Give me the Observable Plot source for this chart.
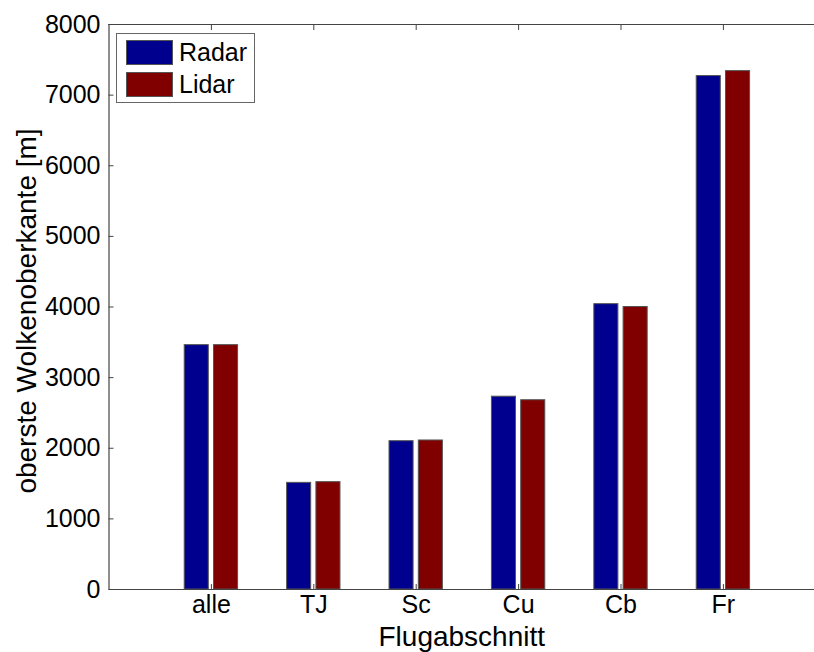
<!DOCTYPE html>
<html><head><meta charset="utf-8">
<script src="https://cdn.jsdelivr.net/npm/d3@7"></script>
<script src="https://cdn.jsdelivr.net/npm/@observablehq/plot@0.6"></script>
<style>
body{margin:0;background:#fff;}
#wrap{position:relative;width:814px;height:652px;font-family:"Liberation Sans",Arial,sans-serif;}
.legend{position:absolute;left:116px;top:33px;width:139px;height:70px;border:1px solid #666;background:#fff;box-sizing:border-box;}
.item{position:absolute;left:9px;height:25px;}
.sw{position:absolute;left:0;top:0;width:47px;height:25px;box-sizing:border-box;border:1px solid #555;}
.lab{position:absolute;left:53px;top:-2px;font-size:25px;line-height:28px;color:#000;}
</style>
</head><body>
<div id="wrap"></div>
<script>
const categories = ["alle", "TJ", "Sc", "Cu", "Cb", "Fr"];
const seriesNames = ["Radar", "Lidar"];
const radar = [3460, 1510, 2100, 2730, 4040, 7270];
const lidar = [3460, 1520, 2110, 2680, 4000, 7340];
const yTicks = [0, 1000, 2000, 3000, 4000, 5000, 6000, 7000, 8000];
const colors = ["#00008F", "#800000"];

const rows = [];
categories.forEach((c, i) => {
  rows.push({cat: c, pos: i + 1, series: "Radar", k: 0, value: radar[i]});
  rows.push({cat: c, pos: i + 1, series: "Lidar", k: 1, value: lidar[i]});
});
const groupOff = 0.143, barW = 0.235;
const catPos = categories.map((c, i) => i + 1);

const W = 814, H = 652, mL = 108.5, mR = 0, mT = 24, mB = 63;
const xMax = (W - mL - mR) / 102.4;

const chart = Plot.plot({
  width: W, height: H,
  marginLeft: mL, marginRight: mR, marginTop: mT, marginBottom: mB,
  style: {fontFamily: '"Liberation Sans", Arial, sans-serif', fontSize: "25px", color: "#000", background: "#fff"},
  x: {domain: [0, xMax]},
  y: {domain: [0, 8000]},
  color: {domain: seriesNames, range: colors},
  marks: [
    Plot.rect(rows, {
      x1: d => d.pos + (d.k === 0 ? -groupOff : groupOff) - barW / 2,
      x2: d => d.pos + (d.k === 0 ? -groupOff : groupOff) + barW / 2,
      y1: 0, y2: "value", fill: "series", stroke: "#555", strokeWidth: 1
    }),
    Plot.ruleY([0, 8000], {stroke: "#444", strokeWidth: 1.2}),
    Plot.ruleX([0], {stroke: "#444", strokeWidth: 1.2}),
    Plot.axisY({ticks: yTicks, tickSize: -5, tickPadding: 13.5, tickFormat: d => String(d), label: null, stroke: "#444", fontSize: 25}),
    Plot.axisX({ticks: catPos, tickSize: -5, tickPadding: 11, tickFormat: i => categories[i - 1], label: null, stroke: "#444", fontSize: 25}),
    Plot.axisX({anchor: "top", ticks: catPos, tickSize: -5, tickFormat: () => "", label: null, stroke: "#444"}),
    Plot.text(["oberste Wolkenoberkante [m]"], {frameAnchor: "left", textAnchor: "middle", lineAnchor: "middle", rotate: -90, dx: -82, dy: 4, fontSize: 28, fill: "#000"}),
    Plot.text(["Flugabschnitt"], {frameAnchor: "bottom", textAnchor: "middle", lineAnchor: "middle", dy: 48, fontSize: 28, fill: "#000"})
  ]
});
const wrap = document.getElementById("wrap");
wrap.appendChild(chart);

const leg = document.createElement("div");
leg.className = "legend";
seriesNames.forEach((s, i) => {
  const it = document.createElement("div");
  it.className = "item";
  it.style.top = (6 + i * 32) + "px";
  const sw = document.createElement("div");
  sw.className = "sw";
  sw.style.background = colors[i];
  const lab = document.createElement("div");
  lab.className = "lab";
  lab.textContent = s;
  it.appendChild(sw); it.appendChild(lab);
  leg.appendChild(it);
});
wrap.appendChild(leg);
</script>
</body></html>
